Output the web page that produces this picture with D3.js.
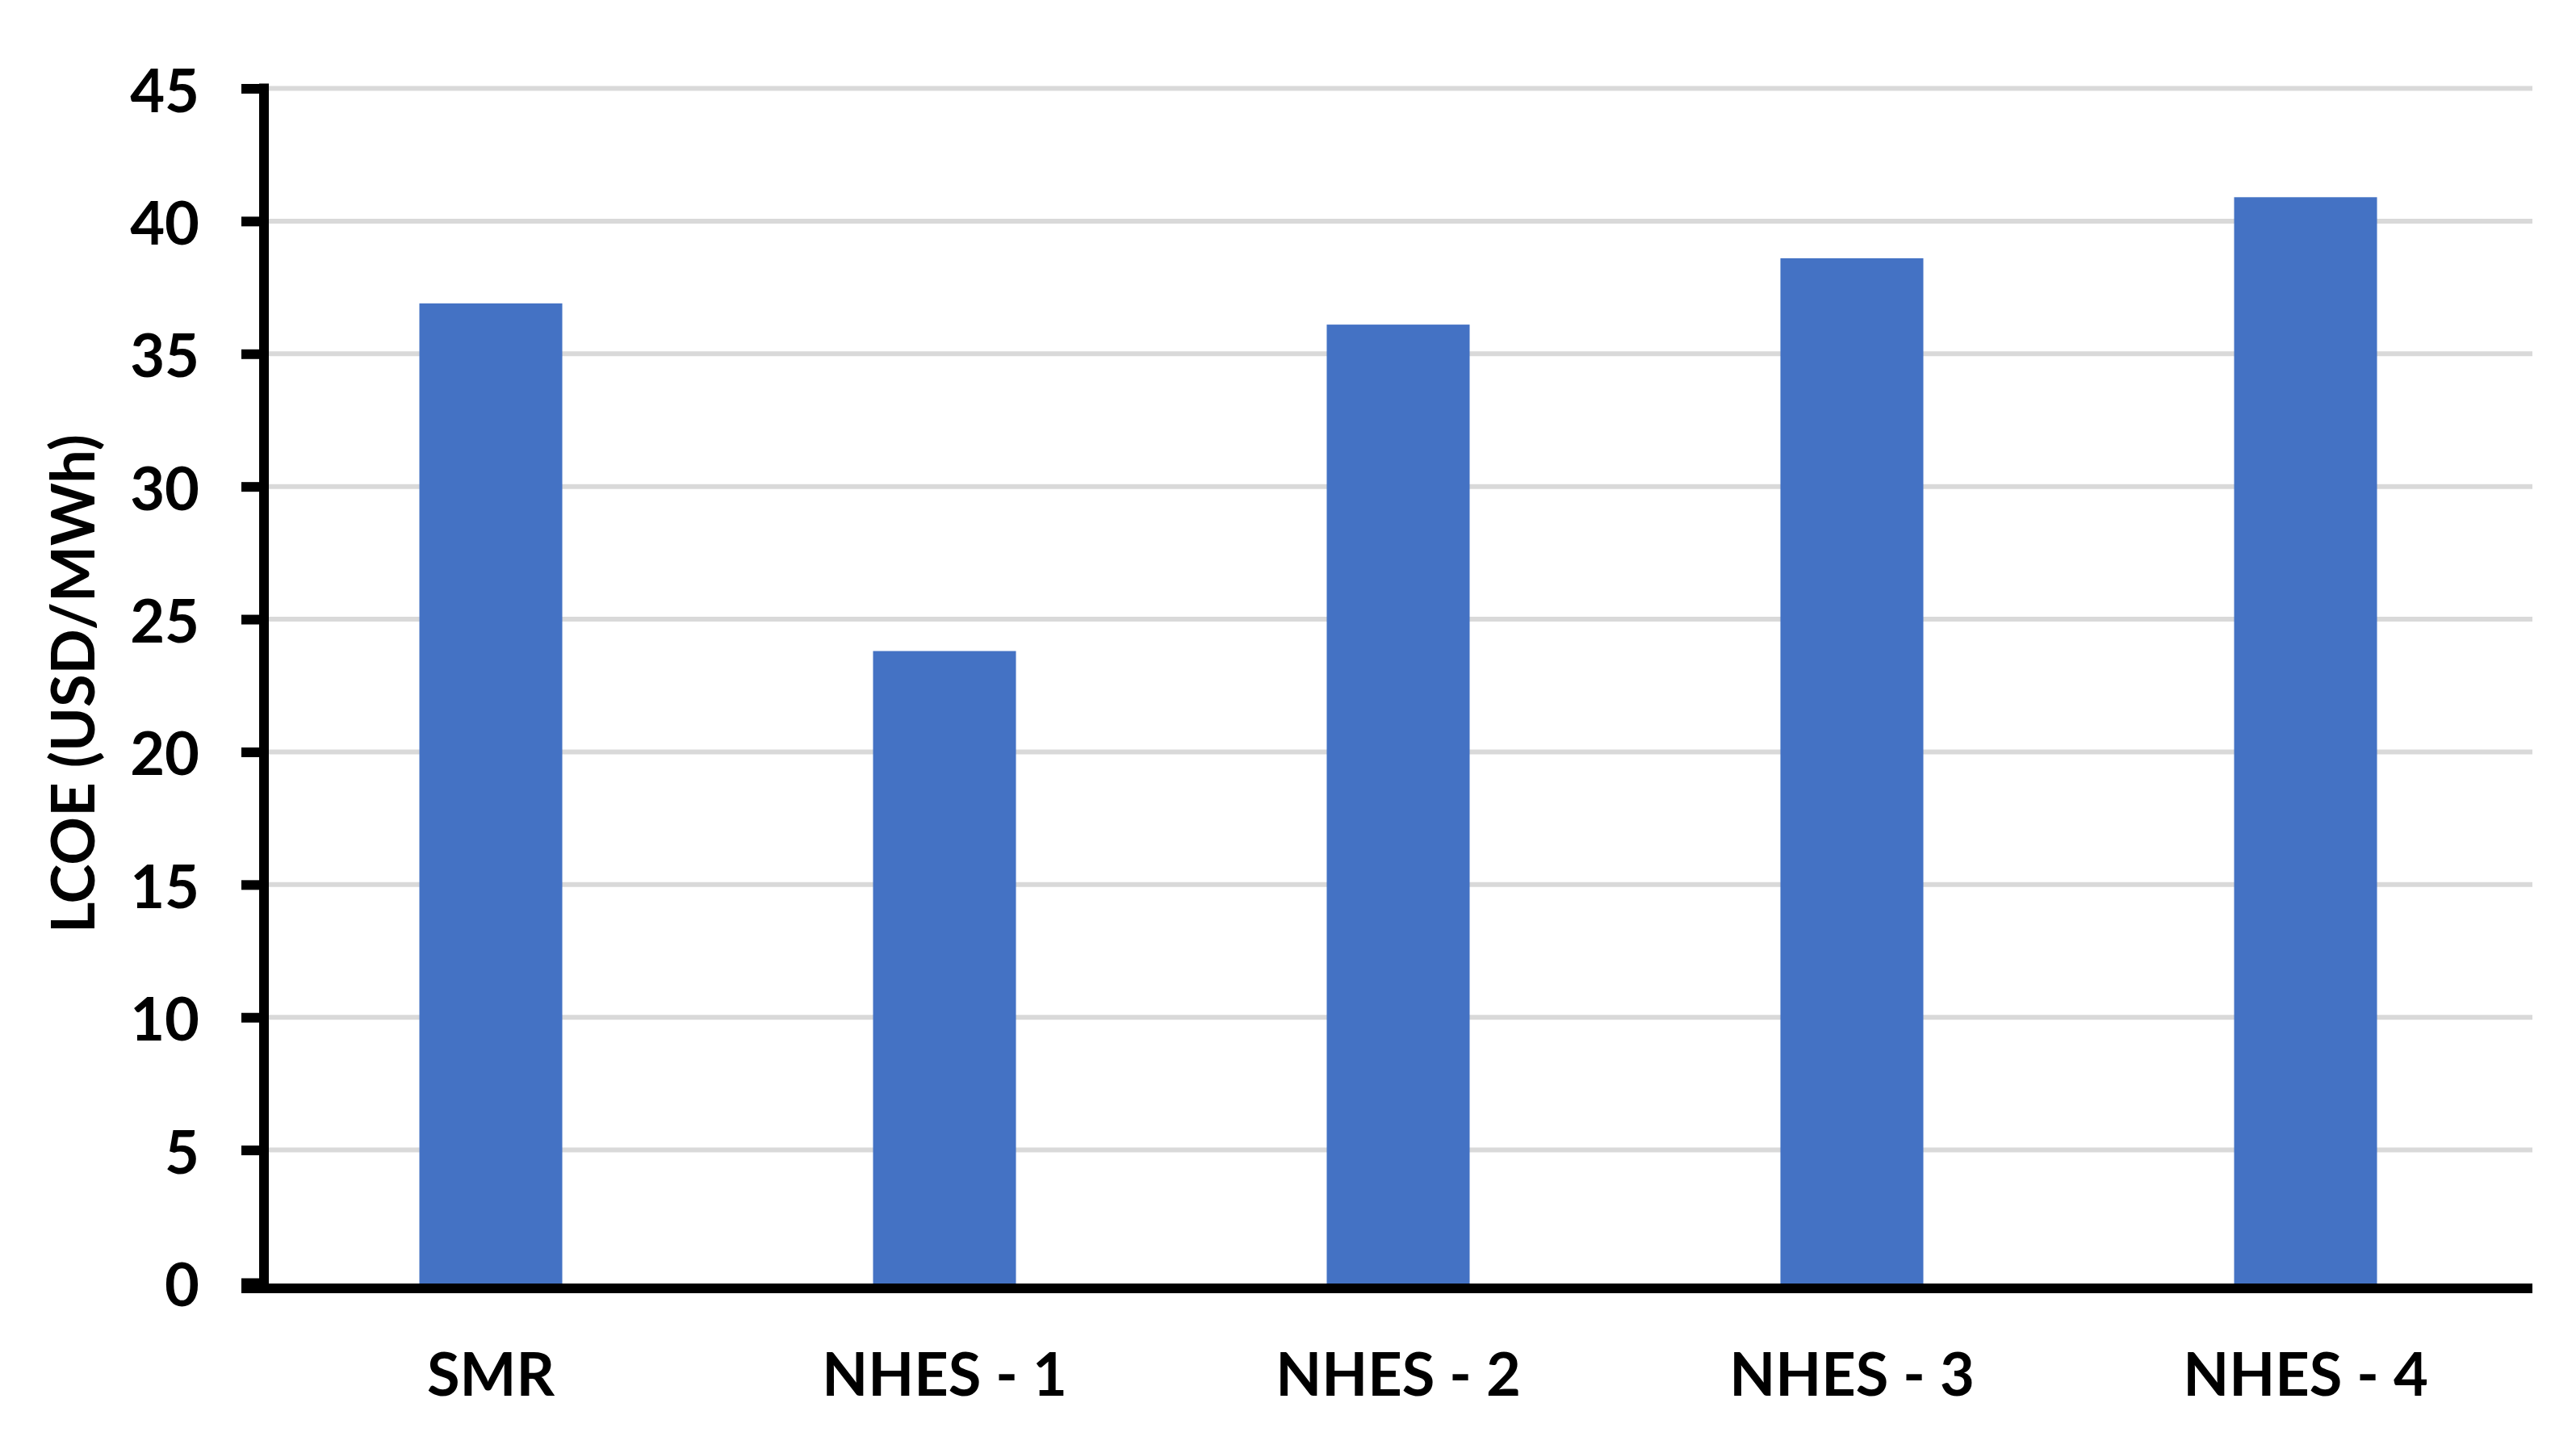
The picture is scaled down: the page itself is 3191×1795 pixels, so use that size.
<!DOCTYPE html>
<html>
<head>
<meta charset="utf-8">
<script src="https://cdn.jsdelivr.net/npm/d3@7"></script>
<style>
  html, body { margin: 0; padding: 0; background: #fff; }
  svg { display: block; }
  text { font-family: Lato, "Open Sans", sans-serif; font-weight: 700; fill: #000; }
</style>
</head>
<body>
<svg id="chart" width="3191" height="1795"></svg>
<script>
const categories = ["SMR", "NHES - 1", "NHES - 2", "NHES - 3", "NHES - 4"];
const lcoeValues = [36.9, 23.8, 36.1, 38.6, 40.9];
const yTicks = [0, 5, 10, 15, 20, 25, 30, 35, 40, 45];
const yTitle = "LCOE (USD/MWh)";

(function () {
const svg = d3.select("#chart");
const W = 3191, H = 1795;
svg.append("rect").attr("width", W).attr("height", H).attr("fill", "#fff");

const plotLeft = 327, plotRight = 3137, plotTop = 109.5, plotBottom = 1589;

const x = d3.scaleBand().domain(categories).range([plotLeft, plotRight])
  .paddingInner(0.685).paddingOuter(0.3425);
const y = d3.scaleLinear().domain([0, 45]).range([plotBottom, plotTop]);

// gridlines
svg.append("g").selectAll("line").data(yTicks.filter(t => t > 0)).join("line")
  .attr("x1", plotLeft + 6).attr("x2", plotRight)
  .attr("y1", d => y(d)).attr("y2", d => y(d))
  .attr("stroke", "#d9d9d9").attr("stroke-width", 6);

// bars
svg.append("g").selectAll("rect").data(categories).join("rect")
  .attr("x", d => x(d))
  .attr("width", x.bandwidth())
  .attr("y", (d, i) => y(lcoeValues[i]))
  .attr("height", (d, i) => y(0) - y(lcoeValues[i]) + 1)
  .attr("fill", "#4472c4");

// y axis
const yAxis = d3.axisLeft(y).tickValues(yTicks).tickSize(28).tickPadding(52);
const gy = svg.append("g").attr("transform", `translate(${plotLeft},0)`).call(yAxis);
gy.select(".domain").remove();
gy.selectAll(".tick line").attr("stroke", "#000").attr("stroke-width", 12);
gy.selectAll(".tick text")
  .attr("font-size", 74).attr("dy", null).attr("y", 0)
  .attr("dominant-baseline", "central")
  .style("font-family", "Lato, 'Open Sans', sans-serif").style("font-weight", 700);
gy.append("line").attr("x1", 0).attr("x2", 0)
  .attr("y1", y(45) - 6).attr("y2", plotBottom + 13)
  .attr("stroke", "#000").attr("stroke-width", 12);

// x axis
const xAxis = d3.axisBottom(x).tickSize(0).tickPadding(0);
const gx = svg.append("g").attr("transform", `translate(0,${plotBottom})`).call(xAxis);
gx.select(".domain").remove();
gx.append("line").attr("x1", plotLeft - 28).attr("x2", plotRight)
  .attr("y1", 7).attr("y2", 7)
  .attr("stroke", "#000").attr("stroke-width", 12);
gx.selectAll(".tick text")
  .attr("font-size", 74).attr("dy", null).attr("y", 140)
  .style("font-family", "Lato, 'Open Sans', sans-serif").style("font-weight", 700);

// y title
svg.append("text")
  .attr("transform", "translate(117,847) rotate(-90)")
  .attr("text-anchor", "middle")
  .attr("font-size", 74)
  .text(yTitle);
})();
</script>
</body>
</html>
